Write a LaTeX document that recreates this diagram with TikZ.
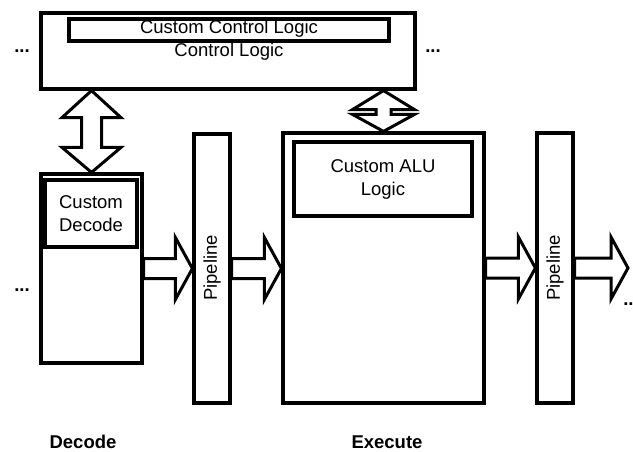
\documentclass[tikz,border=0pt]{standalone}
\usepackage{fontspec}
\setmainfont{Liberation Sans}
\usetikzlibrary{calc}
\begin{document}
\begin{tikzpicture}[x=1pt,y=-1pt,
  font=\fontsize{18.5}{23}\selectfont,
  box/.style={draw, line width=3.2pt, inner sep=0pt, rectangle},
  txt/.style={inner sep=0pt, align=center},
  lbl/.style={inner sep=0pt, font=\fontsize{18.5}{23}\selectfont\bfseries},
  blk/.style={draw, line width=3pt, fill=white, line join=miter}]
\useasboundingbox (0,0) rectangle (633,452);

% horizontal block arrow between two named nodes
\newcommand\harrow[2]{%
  \draw[blk] let \p1=(#1.east), \p2=(#2) in
    (\x1,\y1+10pt) -- (\x2-17pt,\y1+10pt) -- (\x2-17pt,\y1+31pt) -- (\x2,\y1)
    -- (\x2-17pt,\y1-31pt) -- (\x2-17pt,\y1-10pt) -- (\x1,\y1-10pt) -- cycle;}
% vertical double-headed block arrow: #1 upper node, #2 lower node
% #3 head half width, #4 upper head length, #5 shaft half width, #6 lower head length
\newcommand\varrow[6]{%
  \draw[blk] let \p1=(#2.north), \p2=(#1.south) in
    (\x1,\y2) -- (\x1+#3pt,\y2-#4pt) -- (\x1+#5pt,\y2-#4pt) -- (\x1+#5pt,\y1+#6pt)
    -- (\x1+#3pt,\y1+#6pt) -- (\x1,\y1) -- (\x1-#3pt,\y1+#6pt) -- (\x1-#5pt,\y1+#6pt)
    -- (\x1-#5pt,\y2-#4pt) -- (\x1-#3pt,\y2-#4pt) -- cycle;}

% control unit
\node[box, minimum width=374pt, minimum height=76pt] (ctrl) at (228,51) {};
\node[box, minimum width=320pt, minimum height=22pt] (cctrl) at (229,30) {};
\node[txt] (cctrltxt) at (229,29) {Custom Control Logic};
\node[txt] (ctrltxt) at (229,52) {Control Logic};
\node[lbl] (dotsL) at (22,51) {...};
\node[lbl] (dotsR) at (433,51) {...};

% decode stage
\node[box, minimum width=101pt, minimum height=189pt] (dec) at (91.5,268.5) {};
\node[box, minimum width=92pt, minimum height=67pt, txt] (cdec) at (91,213.5) {Custom\\Decode};
\node[lbl] (dotsD) at (22,290) {...};

% first pipeline register
\node[box, minimum width=36pt, minimum height=269pt] (pipe1) at (212,268.5) {};
\node[txt, rotate=90] (pipe1txt) at (212,268) {Pipeline};

% execute stage
\node[box, minimum width=201pt, minimum height=270pt] (exec) at (383.5,268) {};
\node[box, minimum width=178pt, minimum height=74pt, txt] (calu) at (383,179) {Custom ALU\\Logic};

% second pipeline register
\node[box, minimum width=36pt, minimum height=270pt] (pipe2) at (555,268) {};
\node[txt, rotate=90] (pipe2txt) at (555,268) {Pipeline};

\coordinate (out) at (628,268.5);
\node[lbl] (dotsO) at (631,304) {...};

% stage labels
\node[lbl] (decl) at (83,442) {Decode};
\node[lbl] (exel) at (387,442) {Execute};

% data flow
\harrow{dec}{pipe1.west}
\harrow{pipe1}{exec.west}
\harrow{exec}{pipe2.west}
\harrow{pipe2}{out}

% control links
\varrow{ctrl}{dec}{29.5}{27}{10}{25}
\varrow{ctrl}{exec}{31}{19}{7.5}{17}
\end{tikzpicture}
\end{document}
